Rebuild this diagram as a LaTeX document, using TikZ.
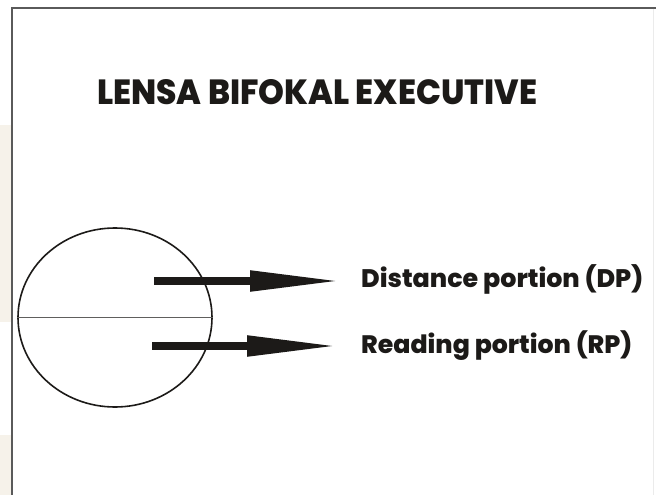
\documentclass[tikz,border=0pt]{standalone}
\usepackage{fontspec}
\setmainfont{Poppins}[BoldFont={Poppins ExtraBold}]
\usetikzlibrary{shapes.geometric,arrows.meta}
\definecolor{ink}{HTML}{1C1A18}
\definecolor{framegray}{HTML}{5A5A5A}
\definecolor{tint}{HTML}{F6F2EA}
\tikzset{
  lensline/.style={draw=ink, line width=1.6pt},
  bigarrow/.style={draw=ink, line width=8.3pt,
    -{Triangle[length=93pt,width=19pt]}},
  label/.style={anchor=base west, inner sep=0pt, text=ink, font=\bfseries}
}
\begin{document}
\begin{tikzpicture}[x=1pt,y=-1pt]
  \useasboundingbox (0,0) rectangle (659,495);
  \fill[white] (0,0) rectangle (659,495);
  % pale tint in the left margin
  \fill[tint] (0,125) rectangle (11,322);
  \fill[tint] (0,435) rectangle (11,495);
  % page frame
  \draw[framegray, line width=2pt] (12,495) -- (12,8) -- (656,8);
  \draw[black!8, line width=1pt] (653,9) -- (653,495);

  % heading
  \node[label] (title) at (97,105)
    {\resizebox{440pt}{25pt}{LENSA BIFOKAL EXECUTIVE}};

  % the lens, split into its two portions
  \node[lensline, ellipse, minimum width=194pt, minimum height=179pt,
        inner sep=0pt] (lens) at (115,317.5) {};
  \draw[ink!70, line width=1.8pt] (lens.west) -- (lens.east);

  % labels
  \node[label] (dp) at (361,287)
    {\resizebox{282pt}{!}{Distance portion (DP)}};
  \node[label] (rp) at (361,353)
    {\resizebox{271pt}{!}{Reading portion (RP)}};

  % pointers
  \coordinate (dpstart) at (154,281);
  \coordinate (dptip) at (343,281);
  \coordinate (rpstart) at (152,346);
  \coordinate (rptip) at (340,346);
  \draw[bigarrow] (dpstart) -- (dptip);
  \draw[bigarrow] (rpstart) -- (rptip);
\end{tikzpicture}
\end{document}
